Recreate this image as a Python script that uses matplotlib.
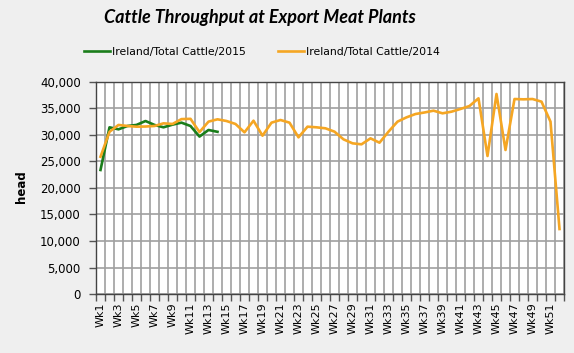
import matplotlib
matplotlib.use("Agg")
import matplotlib.pyplot as plt
from matplotlib.ticker import FuncFormatter, FixedLocator
import numpy as np

weeks = [f"Wk{i}" for i in range(1, 53)]
cattle_2015 = [23400, 31450, 31070, 31700, 31900, 32640, 31900, 31450, 31950, 32330,
               31700, 29700, 30950, 30600]
cattle_2014 = [25900, 30600, 31900, 31700, 31570, 31600, 31700, 32200, 32080, 33000,
               33050, 30550, 32520, 32960, 32640, 32080, 30500, 32700, 29870, 32330,
               32830, 32330, 29560, 31570, 31450, 31260, 30630, 29180, 28430, 28240,
               29370, 28550, 30630, 32520, 33330, 33960, 34250, 34590, 34090, 34400,
               34910, 35470, 36920, 26040, 37740, 27170, 36790, 36730, 36790, 36290,
               32520, 12260]
yticks = [0, 5000, 10000, 15000, 20000, 25000, 30000, 35000, 40000]

fig = plt.figure(figsize=(5.74, 3.53), dpi=100)
fig.patch.set_facecolor("#efefef")
ax = fig.add_axes([96/574, 59/353, 468/574, 212/353])
ax.set_facecolor("white")

x15 = np.arange(len(cattle_2015))
x14 = np.arange(len(cattle_2014))
l1, = ax.plot(x15, cattle_2015, color="#1a7d1a", lw=1.9, zorder=3)
l2, = ax.plot(x14, cattle_2014, color="#f5a623", lw=1.9, zorder=3)

ax.set_xlim(-0.5, len(weeks) - 0.5)
ax.set_ylim(0, 40000)
ax.yaxis.set_major_locator(FixedLocator(yticks))
ax.yaxis.set_major_formatter(FuncFormatter(lambda v, p: f"{int(v):,}"))

ax.set_xticks(np.arange(0, len(weeks), 2))
ax.set_xticklabels(weeks[::2], rotation=90, fontsize=8)
ax.set_xticks(np.arange(-0.5, len(weeks), 1), minor=True)
ax.tick_params(axis="x", which="major", length=0, pad=6)
ax.tick_params(axis="x", which="minor", length=5, width=1, color="#555555", direction="out")
ax.tick_params(axis="y", which="major", length=5, width=1, color="#555555", labelsize=8.5, pad=6)

ax.grid(True, which="minor", axis="x", color="#a0a0a0", lw=1.2, zorder=1)
ax.grid(True, which="major", axis="y", color="#a0a0a0", lw=1.2, zorder=1)
ax.set_axisbelow(True)
for s in ax.spines.values():
    s.set_color("#444444")
    s.set_linewidth(1.0)

fig.text(21/574, 1 - 187/353, "head", rotation=90, fontsize=8.5, fontweight="bold",
         ha="center", va="center")
fig.text(260/574, 1 - 17/353, "Cattle Throughput at Export Meat Plants", fontsize=13,
         fontweight="bold", style="italic", family="Lato", ha="center", va="center")

fig.legend([l1, l2], ["Ireland/Total Cattle/2015", "Ireland/Total Cattle/2014"],
           loc="center", bbox_to_anchor=(262/574, 1 - 52/353), ncol=2, frameon=False,
           fontsize=7.8, handlelength=2.4, handletextpad=0.2, columnspacing=3.0)

fig.savefig("out.png", dpi=100, facecolor=fig.get_facecolor())
